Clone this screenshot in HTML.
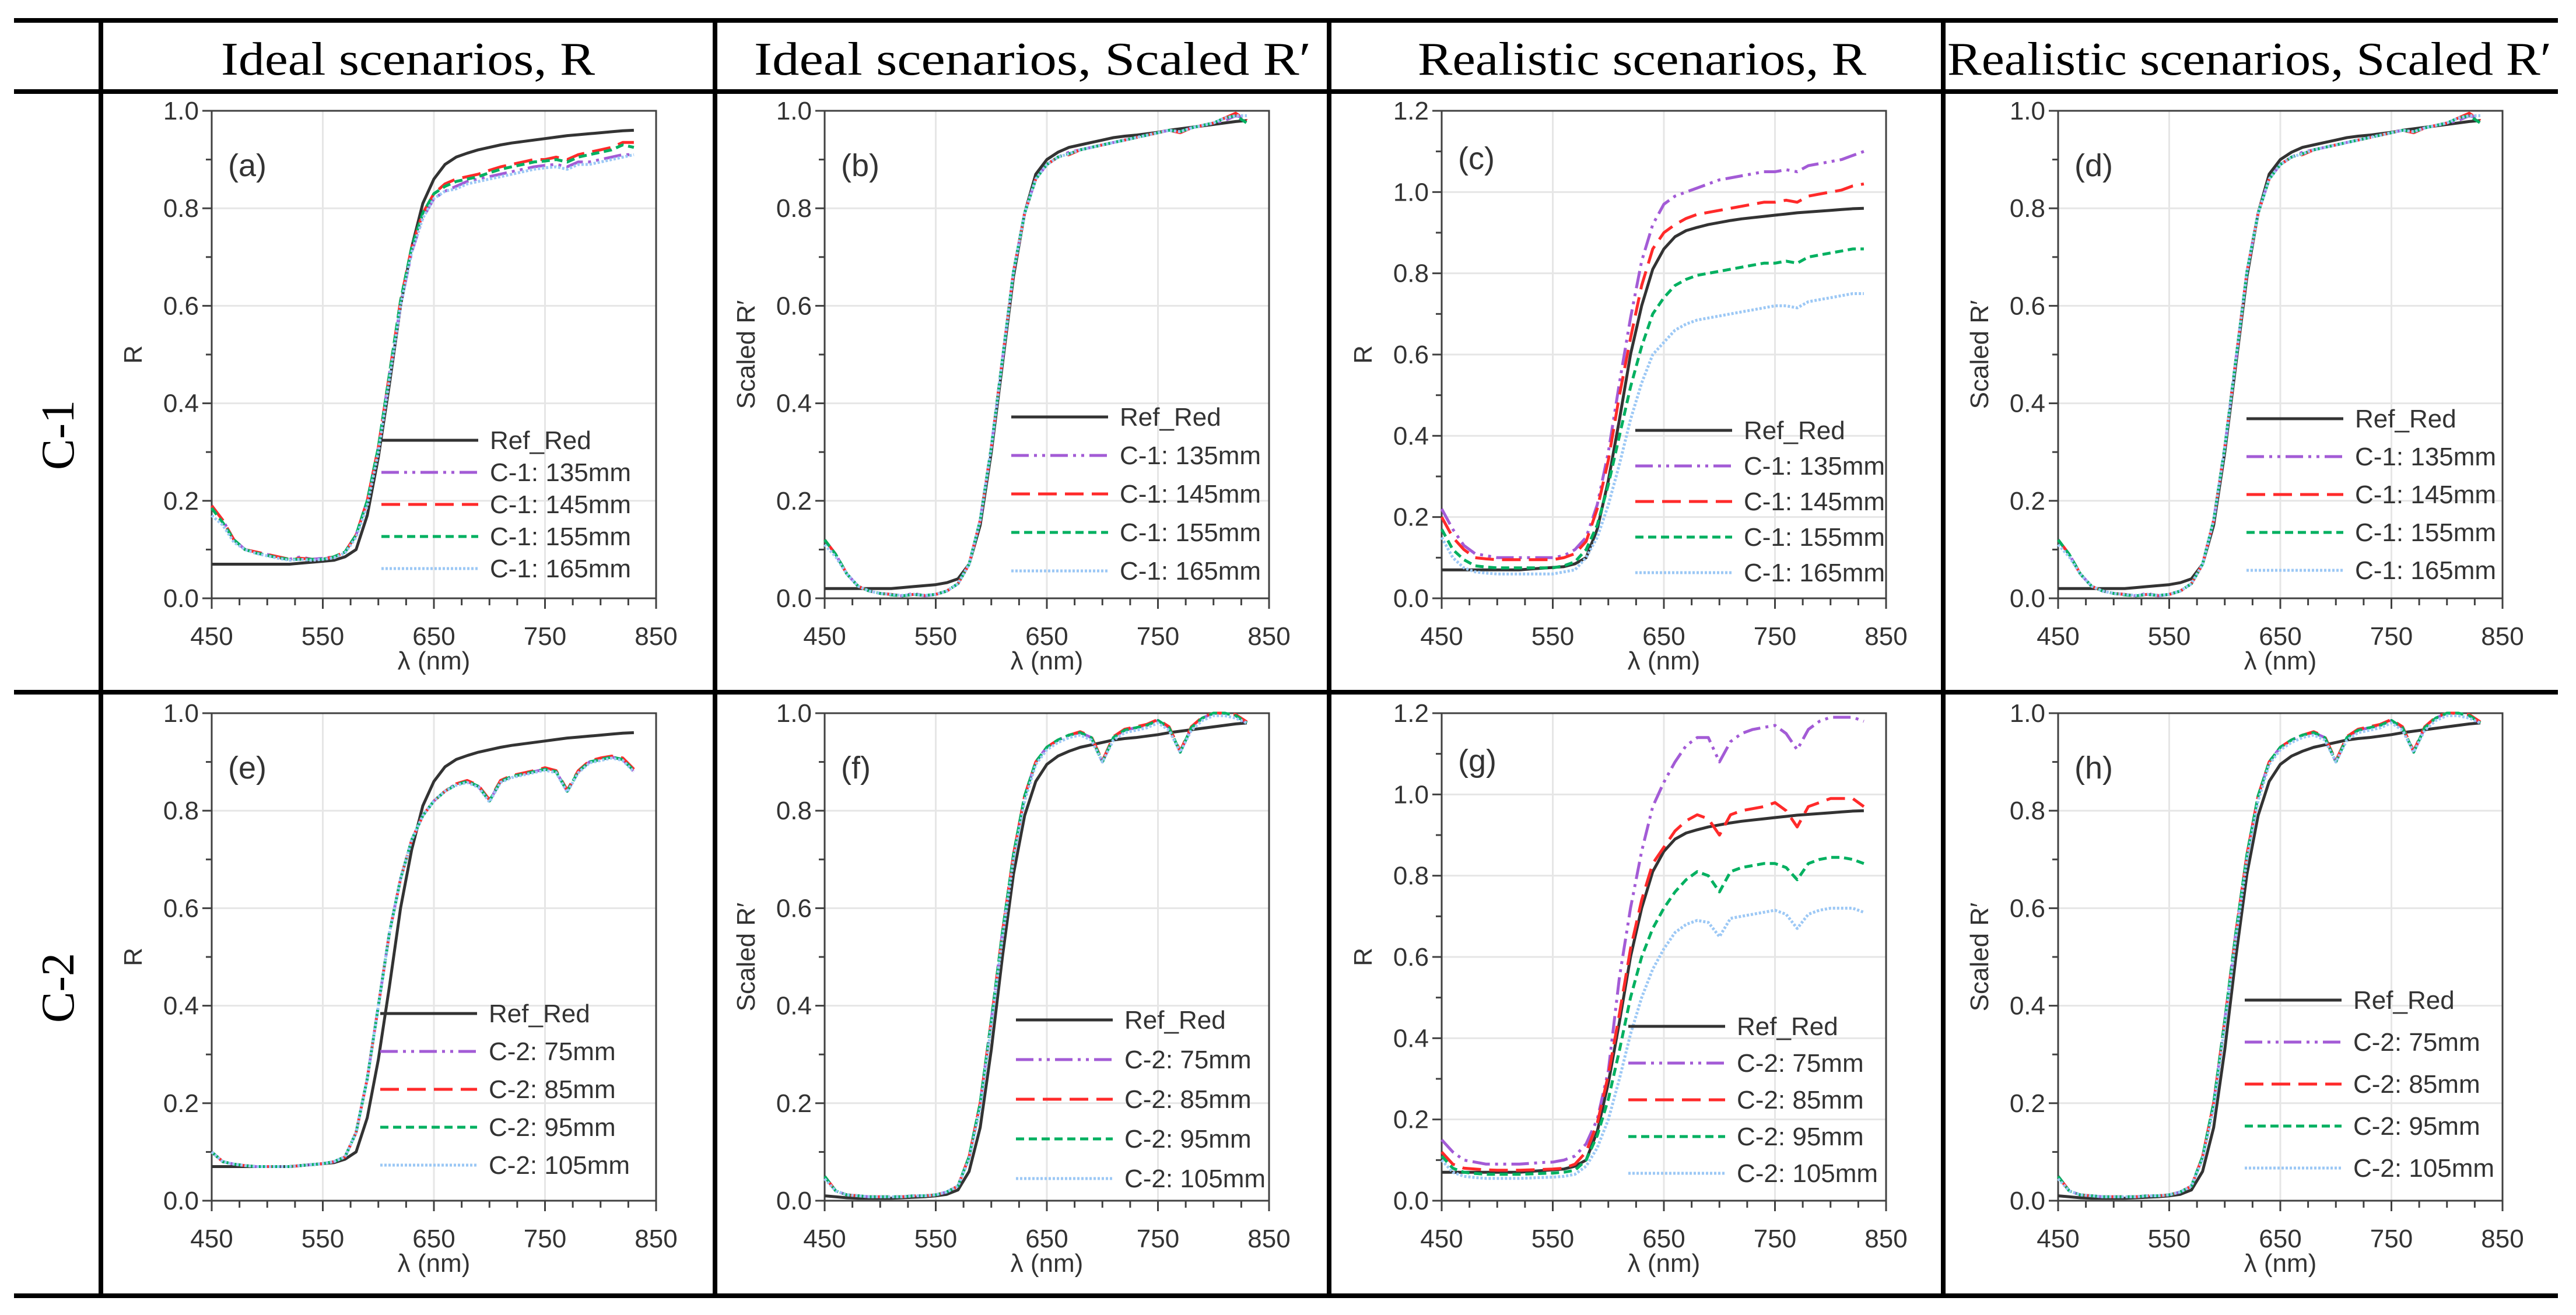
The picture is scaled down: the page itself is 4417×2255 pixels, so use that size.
<!DOCTYPE html>
<html><head><meta charset="utf-8"><style>
html,body{margin:0;padding:0;background:#fff;}
svg{display:block;}
</style></head><body>
<svg id="fig" xmlns="http://www.w3.org/2000/svg" width="4417" height="2255" viewBox="0 0 4417 2255">
<rect x="0" y="0" width="4417" height="2255" fill="#fff"/>
<g stroke="#000" stroke-width="8">
<line x1="24" y1="35" x2="4386" y2="35"/>
<line x1="24" y1="157" x2="4386" y2="157"/>
<line x1="24" y1="1187" x2="4386" y2="1187"/>
<line x1="24" y1="2222" x2="4386" y2="2222"/>
<line x1="173" y1="31" x2="173" y2="2226"/>
<line x1="1226" y1="31" x2="1226" y2="2226"/>
<line x1="2279" y1="31" x2="2279" y2="2226"/>
<line x1="3332" y1="31" x2="3332" y2="2226"/>
</g>
<g font-family="Liberation Serif, serif" font-size="80" fill="#000">
<text x="379" y="128" textLength="641" lengthAdjust="spacingAndGlyphs">Ideal scenarios, R</text>
<text x="1293" y="128" textLength="955" lengthAdjust="spacingAndGlyphs">Ideal scenarios, Scaled R′</text>
<text x="2431" y="128" textLength="769" lengthAdjust="spacingAndGlyphs">Realistic scenarios, R</text>
<text x="3339" y="128" textLength="1036" lengthAdjust="spacingAndGlyphs">Realistic scenarios, Scaled R′</text>
<text transform="translate(126,746) rotate(-90)" text-anchor="middle">C-1</text>
<text transform="translate(126,1694) rotate(-90)" text-anchor="middle">C-2</text>
</g>
<g id="plots"></g>
</svg>
<script>
const wavelengths=[450,460,470,480,490,500,510,520,530,540,550,560,570,580,590,600,610,620,630,640,650,660,670,680,690,700,710,720,730,740,750,760,770,780,790,800,810,820,830];
const xTicks=[450,550,650,750,850];
const yTicks10=[0.0,0.2,0.4,0.6,0.8,1.0];
const yTicks12=[0.0,0.2,0.4,0.6,0.8,1.0,1.2];
const refR=[0.07,0.07,0.07,0.07,0.07,0.07,0.07,0.07,0.072,0.074,0.076,0.078,0.085,0.1,0.17,0.29,0.44,0.6,0.72,0.81,0.86,0.89,0.905,0.913,0.92,0.925,0.93,0.934,0.937,0.94,0.943,0.946,0.949,0.951,0.953,0.955,0.957,0.959,0.96];
const refScaledC1=[0.02,0.02,0.02,0.02,0.02,0.02,0.02,0.022,0.024,0.026,0.028,0.032,0.04,0.07,0.15,0.3,0.48,0.66,0.79,0.87,0.9,0.915,0.925,0.93,0.935,0.94,0.945,0.948,0.95,0.953,0.956,0.96,0.963,0.966,0.969,0.972,0.975,0.978,0.98];
const refScaledC2=[0.01,0.008,0.006,0.005,0.005,0.005,0.005,0.006,0.007,0.008,0.01,0.013,0.022,0.06,0.15,0.31,0.5,0.67,0.79,0.86,0.895,0.912,0.922,0.93,0.935,0.94,0.945,0.948,0.95,0.953,0.956,0.96,0.963,0.966,0.969,0.972,0.975,0.978,0.98];
const a135=[0.19,0.16,0.12,0.1,0.095,0.09,0.085,0.08,0.085,0.08,0.082,0.085,0.095,0.13,0.2,0.31,0.46,0.6,0.71,0.78,0.82,0.835,0.845,0.855,0.86,0.865,0.87,0.875,0.88,0.885,0.888,0.89,0.885,0.895,0.895,0.9,0.905,0.91,0.91];
const a145=[0.19,0.16,0.12,0.1,0.095,0.09,0.085,0.08,0.082,0.08,0.08,0.085,0.095,0.13,0.2,0.31,0.46,0.61,0.72,0.79,0.83,0.85,0.86,0.865,0.87,0.878,0.885,0.89,0.895,0.9,0.9,0.905,0.9,0.91,0.915,0.92,0.925,0.935,0.935];
const a155=[0.185,0.155,0.12,0.1,0.093,0.088,0.083,0.08,0.08,0.08,0.08,0.085,0.095,0.13,0.2,0.31,0.46,0.61,0.72,0.79,0.83,0.845,0.855,0.86,0.865,0.873,0.88,0.885,0.89,0.895,0.897,0.9,0.895,0.905,0.91,0.915,0.92,0.93,0.925];
const a165=[0.17,0.15,0.115,0.1,0.092,0.087,0.082,0.078,0.08,0.078,0.08,0.083,0.093,0.125,0.19,0.3,0.45,0.6,0.71,0.78,0.82,0.835,0.84,0.85,0.855,0.86,0.865,0.87,0.875,0.88,0.883,0.885,0.88,0.89,0.89,0.895,0.9,0.905,0.91];
const b135=[0.12,0.09,0.05,0.025,0.015,0.01,0.008,0.005,0.01,0.005,0.008,0.015,0.03,0.07,0.16,0.31,0.49,0.67,0.79,0.86,0.89,0.905,0.915,0.92,0.925,0.93,0.935,0.94,0.945,0.95,0.955,0.96,0.955,0.965,0.97,0.975,0.98,0.99,0.985];
const b145=[0.12,0.09,0.05,0.025,0.015,0.01,0.008,0.005,0.008,0.006,0.008,0.015,0.03,0.07,0.16,0.31,0.49,0.67,0.79,0.86,0.89,0.905,0.91,0.92,0.925,0.93,0.935,0.94,0.945,0.95,0.955,0.96,0.955,0.965,0.97,0.975,0.985,0.995,0.98];
const b155=[0.12,0.09,0.05,0.025,0.015,0.01,0.007,0.005,0.008,0.006,0.008,0.015,0.03,0.07,0.16,0.31,0.49,0.67,0.79,0.86,0.89,0.905,0.912,0.92,0.925,0.93,0.935,0.94,0.945,0.95,0.955,0.96,0.957,0.965,0.97,0.975,0.985,0.99,0.975];
const b165=[0.11,0.085,0.05,0.025,0.015,0.01,0.008,0.006,0.008,0.006,0.008,0.015,0.03,0.07,0.16,0.31,0.49,0.67,0.79,0.86,0.89,0.905,0.912,0.92,0.925,0.93,0.935,0.94,0.945,0.95,0.955,0.96,0.957,0.965,0.97,0.975,0.985,0.99,0.99];
const c135=[0.22,0.17,0.13,0.11,0.105,0.1,0.1,0.1,0.1,0.1,0.1,0.105,0.12,0.15,0.23,0.36,0.53,0.69,0.83,0.92,0.97,0.99,1.0,1.01,1.02,1.03,1.035,1.04,1.045,1.05,1.05,1.055,1.05,1.065,1.07,1.075,1.08,1.09,1.1];
const c145=[0.2,0.15,0.12,0.1,0.097,0.095,0.095,0.095,0.095,0.095,0.095,0.1,0.11,0.14,0.22,0.34,0.5,0.64,0.77,0.86,0.9,0.92,0.935,0.945,0.95,0.955,0.96,0.965,0.97,0.975,0.975,0.98,0.975,0.99,0.995,1.0,1.005,1.015,1.02];
const c155=[0.17,0.12,0.095,0.08,0.077,0.075,0.075,0.075,0.075,0.075,0.075,0.08,0.09,0.12,0.18,0.28,0.4,0.52,0.62,0.7,0.74,0.77,0.785,0.795,0.8,0.805,0.81,0.815,0.82,0.825,0.825,0.83,0.825,0.84,0.845,0.85,0.855,0.86,0.86];
const c165=[0.15,0.1,0.075,0.065,0.062,0.06,0.06,0.06,0.06,0.06,0.06,0.065,0.07,0.1,0.15,0.23,0.33,0.44,0.53,0.6,0.63,0.66,0.675,0.685,0.69,0.695,0.7,0.705,0.71,0.715,0.72,0.72,0.715,0.73,0.735,0.74,0.745,0.75,0.75];
const e75=[0.1,0.08,0.075,0.072,0.07,0.07,0.07,0.07,0.072,0.074,0.076,0.08,0.09,0.14,0.25,0.4,0.55,0.66,0.74,0.79,0.82,0.84,0.855,0.86,0.85,0.82,0.86,0.87,0.875,0.88,0.885,0.88,0.84,0.88,0.9,0.905,0.91,0.905,0.88];
const e85=[0.1,0.08,0.075,0.072,0.07,0.07,0.07,0.07,0.072,0.074,0.076,0.08,0.09,0.14,0.25,0.4,0.55,0.66,0.74,0.79,0.82,0.84,0.855,0.862,0.852,0.822,0.862,0.872,0.877,0.882,0.888,0.882,0.842,0.882,0.902,0.908,0.912,0.908,0.885];
const e95=[0.1,0.08,0.075,0.072,0.07,0.07,0.07,0.07,0.072,0.074,0.076,0.08,0.09,0.14,0.25,0.4,0.55,0.66,0.74,0.79,0.82,0.84,0.853,0.86,0.85,0.82,0.86,0.87,0.875,0.88,0.885,0.88,0.84,0.88,0.9,0.905,0.91,0.905,0.882];
const e105=[0.1,0.08,0.075,0.072,0.07,0.07,0.07,0.07,0.072,0.074,0.076,0.08,0.09,0.14,0.25,0.4,0.55,0.66,0.74,0.79,0.82,0.84,0.852,0.858,0.848,0.818,0.858,0.868,0.873,0.878,0.883,0.878,0.838,0.878,0.898,0.903,0.908,0.903,0.88];
const f75=[0.05,0.02,0.012,0.01,0.008,0.008,0.008,0.008,0.01,0.01,0.012,0.018,0.03,0.09,0.2,0.37,0.55,0.71,0.83,0.9,0.93,0.945,0.955,0.96,0.95,0.9,0.95,0.965,0.97,0.975,0.985,0.97,0.92,0.97,0.99,1.0,1.0,0.995,0.98];
const f85=[0.05,0.02,0.012,0.01,0.008,0.008,0.008,0.008,0.01,0.01,0.012,0.018,0.03,0.09,0.2,0.37,0.55,0.71,0.83,0.9,0.93,0.945,0.955,0.962,0.952,0.902,0.952,0.967,0.972,0.977,0.987,0.972,0.922,0.972,0.992,1.0,1.0,0.997,0.982];
const f95=[0.05,0.02,0.012,0.01,0.008,0.008,0.008,0.008,0.01,0.01,0.012,0.018,0.03,0.09,0.2,0.37,0.55,0.71,0.83,0.9,0.93,0.945,0.955,0.96,0.95,0.9,0.95,0.965,0.97,0.975,0.985,0.97,0.92,0.97,0.99,1.0,1.0,0.995,0.98];
const f105=[0.045,0.02,0.012,0.01,0.008,0.008,0.008,0.008,0.01,0.01,0.012,0.018,0.03,0.085,0.19,0.36,0.54,0.7,0.82,0.895,0.925,0.94,0.95,0.955,0.945,0.9,0.945,0.96,0.965,0.97,0.98,0.965,0.92,0.965,0.985,0.995,0.995,0.99,0.98];
const g75=[0.15,0.12,0.1,0.095,0.09,0.09,0.09,0.09,0.092,0.094,0.095,0.1,0.11,0.14,0.2,0.32,0.55,0.72,0.86,0.97,1.03,1.08,1.12,1.14,1.14,1.08,1.13,1.15,1.16,1.165,1.17,1.15,1.11,1.16,1.18,1.19,1.19,1.19,1.18];
const g85=[0.12,0.09,0.08,0.078,0.076,0.075,0.075,0.075,0.076,0.077,0.078,0.08,0.09,0.12,0.19,0.31,0.46,0.62,0.74,0.83,0.87,0.91,0.935,0.95,0.94,0.9,0.95,0.96,0.965,0.97,0.98,0.96,0.92,0.97,0.98,0.99,0.99,0.99,0.97];
const g95=[0.11,0.08,0.07,0.067,0.065,0.065,0.065,0.065,0.066,0.067,0.068,0.07,0.075,0.1,0.16,0.25,0.37,0.5,0.6,0.67,0.72,0.76,0.79,0.81,0.8,0.76,0.81,0.82,0.825,0.83,0.83,0.82,0.79,0.83,0.84,0.845,0.845,0.84,0.83];
const g105=[0.1,0.07,0.06,0.057,0.055,0.055,0.055,0.055,0.056,0.057,0.058,0.06,0.065,0.085,0.13,0.2,0.3,0.41,0.5,0.57,0.62,0.66,0.68,0.69,0.685,0.65,0.695,0.7,0.705,0.71,0.715,0.705,0.67,0.705,0.715,0.72,0.72,0.72,0.71];
const namesC1=["Ref_Red","C-1: 135mm","C-1: 145mm","C-1: 155mm","C-1: 165mm"];
const namesC2=["Ref_Red","C-2: 75mm","C-2: 85mm","C-2: 95mm","C-2: 105mm"];

const NS="http://www.w3.org/2000/svg";
const styles=[
 {stroke:"#333333",dash:"",w:5},
 {stroke:"#a35bd6",dash:"30 9 5 9 5 9",w:5},
 {stroke:"#ff2a2a",dash:"32 14",w:5},
 {stroke:"#00b060",dash:"14 8",w:5},
 {stroke:"#9cc8f5",dash:"4 3",w:5}
];
const colLines=[173,1226,2279,3332];
const colOff=[190,188,193,197];
const rowTops=[190,1223];
const PW=762, PH=836;
const panels=[
 {id:"a",col:0,row:0,ymax:1.0,ylab:"R",data:[refR,a135,a145,a155,a165],names:namesC1,leg:[291,565,55]},
 {id:"b",col:1,row:0,ymax:1.0,ylab:"Scaled R′",data:[refScaledC1,b135,b145,b155,b165],names:namesC1,leg:[320,525,66]},
 {id:"c",col:2,row:0,ymax:1.2,ylab:"R",data:[refR,c135,c145,c155,c165],names:namesC1,leg:[332,548,61]},
 {id:"d",col:3,row:0,ymax:1.0,ylab:"Scaled R′",data:[refScaledC1,b135,b145,b155,b165],names:namesC1,leg:[323,528,65]},
 {id:"e",col:0,row:1,ymax:1.0,ylab:"R",data:[refR,e75,e85,e95,e105],names:namesC2,leg:[289,515,65]},
 {id:"f",col:1,row:1,ymax:1.0,ylab:"Scaled R′",data:[refScaledC2,f75,f85,f95,f105],names:namesC2,leg:[328,526,68]},
 {id:"g",col:2,row:1,ymax:1.2,ylab:"R",data:[refR,g75,g85,g95,g105],names:namesC2,leg:[320,537,63]},
 {id:"h",col:3,row:1,ymax:1.0,ylab:"Scaled R′",data:[refScaledC2,f75,f85,f95,f105],names:namesC2,leg:[320,492,72]}
];
function mk(tag,attrs,parent){const e=document.createElementNS(NS,tag);for(const k in attrs)e.setAttribute(k,attrs[k]);if(parent)parent.appendChild(e);return e;}
const root=document.getElementById("plots");
panels.forEach(p=>{
 const L=colLines[p.col]+colOff[p.col], T=rowTops[p.row];
 const xS=v=>L+(v-450)/400*PW;
 const yS=v=>T+PH-(v/p.ymax)*PH;
 const g=mk("g",{},root);
 
 
 const yt=p.ymax>1.1?yTicks12:yTicks10;
 yt.forEach(v=>{if(v>0&&v<p.ymax){const l=mk("line",{x1:L,x2:L+PW,y1:yS(v),y2:yS(v),stroke:"#e6e6e6","stroke-width":3},g);}});
 xTicks.forEach(v=>{if(v>450&&v<850){const l=mk("line",{x1:xS(v),x2:xS(v),y1:T,y2:T+PH,stroke:"#e6e6e6","stroke-width":3},g);}});
 const fr=mk("rect",{x:L,y:T,width:PW,height:PH,fill:"none",stroke:"#404040","stroke-width":3},g);
 
 
 for(let v=0;v<=p.ymax+1e-9;v+=0.1){const major=Math.abs(v*10%2)<1e-6||Math.abs(v*10%2-2)<1e-6;const t=mk("line",{x1:L-(major?16:10),x2:L,y1:yS(v),y2:yS(v),stroke:"#404040","stroke-width":3},g);}
 for(let v=450;v<=850;v+=25){const t=mk("line",{x1:xS(v),x2:xS(v),y1:T+PH,y2:T+PH+(v%100===50?18:12),stroke:"#404040","stroke-width":3},g);}
 yt.forEach(v=>{const t=mk("text",{x:L-22,y:yS(v)+15,"text-anchor":"end","font-family":"Liberation Sans, sans-serif","font-size":44,fill:"#333"},g);t.textContent=v.toFixed(1);});
 xTicks.forEach(v=>{const t=mk("text",{x:xS(v),y:T+PH+80,"text-anchor":"middle","font-family":"Liberation Sans, sans-serif","font-size":44,fill:"#333"},g);t.textContent=String(v);});
 const xt=mk("text",{x:L+PW/2,y:T+PH+122,"text-anchor":"middle","font-family":"Liberation Sans, sans-serif","font-size":44,fill:"#333"},g);
 xt.textContent="λ (nm)";
 
 
 const yl=mk("text",{transform:"translate("+(L-120)+","+(T+PH/2)+") rotate(-90)","text-anchor":"middle","font-family":"Liberation Sans, sans-serif","font-size":44,fill:"#333"},g);
 yl.textContent=p.ylab;
 
 
 const pl=mk("text",{x:L+28,y:T+(p.ymax>1.1?100:112),"font-family":"Liberation Sans, sans-serif","font-size":54,fill:"#333"},g);
 pl.textContent="("+p.id+")";
 
 
 p.data.forEach((arr,si)=>{
  let d="";arr.forEach((v,i)=>{d+=(i?"L":"M")+xS(wavelengths[i]).toFixed(1)+","+yS(v).toFixed(1);});
  const st=styles[si];
  const path=mk("path",{d:d,fill:"none",stroke:st.stroke,"stroke-width":st.w,"stroke-dasharray":st.dash,"stroke-linejoin":"round"},g);
  
  
 });
 const lg=mk("g",{},g);
 
 
 p.names.forEach((n,si)=>{
  const yy=T+p.leg[1]+si*p.leg[2], x0=L+p.leg[0];
  const st=styles[si];
  const ln=mk("line",{x1:x0,x2:x0+166,y1:yy,y2:yy,stroke:st.stroke,"stroke-width":st.w,"stroke-dasharray":st.dash},lg);
  
  
  const tx=mk("text",{x:x0+186,y:yy+15,"font-family":"Liberation Sans, sans-serif","font-size":44,fill:"#333"},lg);
  tx.textContent=n;
  
  
 });
});
</script>
</body></html>
